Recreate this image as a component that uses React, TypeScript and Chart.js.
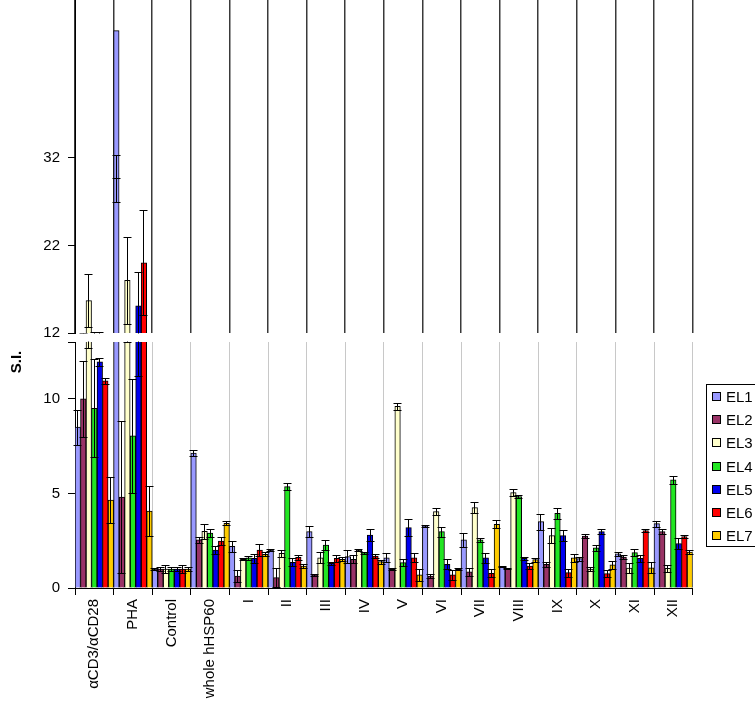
import React, { useEffect, useRef } from 'react';
import { Chart, registerables } from 'chart.js';

Chart.register(...registerables);

const categories = ['αCD3/αCD28', 'PHA', 'Control', 'whole hHSP60', 'I', 'II', 'III', 'IV', 'V', 'VI', 'VII', 'VIII', 'IX', 'X', 'XI', 'XII'];
const seriesNames = ['EL1', 'EL2', 'EL3', 'EL4', 'EL5', 'EL6', 'EL7'];
const seriesColors = ['#9999FF', '#993366', '#FFFFCC', '#22E622', '#0000F0', '#FF0000', '#FFCC00'];

const el1 = [8.5, 46.5, 1.0, 7.13, 2.2, 2.0, 2.98, 1.66, 1.6, 3.28, 2.54, 1.13, 3.51, 1.55, 1.8, 3.4];
const el1Err = [0.93, null, 0.05, 0.15, 0.3, 0.05, 0.3, 0.35, 0.25, 0.05, 0.35, 0.03, 0.42, 0.1, 0.1, 0.15];
const el2 = [10.0, 4.8, 1.0, 2.55, 0.63, 0.55, 0.69, 1.52, 0.99, 0.63, 0.86, 1.04, 1.25, 2.75, 1.63, 2.98];
const el2Err = [2.0, 4.0, 0.1, 0.15, 0.3, 0.5, 0.07, 0.2, 0.05, 0.1, 0.2, 0.03, 0.15, 0.1, 0.1, 0.15];
const el3 = [15.7, 18.0, 1.0, 3.0, 1.52, 1.83, 1.6, 2.0, 9.6, 4.04, 4.25, 5.04, 2.77, 1.0, 1.05, 1.04];
const el3Err = [3.0, 5.0, 0.2, 0.4, 0.05, 0.2, 0.3, 0.05, 0.2, 0.2, 0.27, 0.2, 0.38, 0.1, 0.25, 0.2];
const el4 = [9.5, 8.04, 1.0, 2.9, 1.6, 5.36, 2.27, 1.87, 1.34, 2.98, 2.54, 4.83, 3.95, 2.12, 1.87, 5.71];
const el4Err = [2.6, 3.0, 0.1, 0.2, 0.1, 0.2, 0.25, 0.05, 0.2, 0.27, 0.1, 0.08, 0.3, 0.15, 0.17, 0.2];
const el5 = [11.95, 15.1, 1.0, 2.01, 1.57, 1.36, 1.3, 2.8, 3.19, 1.25, 1.6, 1.57, 2.77, 2.98, 1.57, 2.35];
const el5Err = [0.2, 3.9, 0.1, 0.2, 0.25, 0.2, 0.1, 0.3, 0.45, 0.27, 0.27, 0.08, 0.28, 0.15, 0.2, 0.3];
const el6 = [10.95, 20.0, 1.0, 2.48, 2.0, 1.62, 1.57, 1.69, 1.6, 0.69, 0.78, 1.16, 0.81, 0.76, 3.03, 2.72];
const el6Err = [0.15, 6.0, 0.2, 0.2, 0.3, 0.15, 0.2, 0.1, 0.25, 0.27, 0.2, 0.15, 0.22, 0.2, 0.07, 0.08];
const el7 = [4.65, 4.07, 1.0, 3.42, 1.78, 1.16, 1.52, 1.39, 0.69, 0.99, 3.37, 1.5, 1.6, 1.22, 1.07, 1.9];
const el7Err = [1.2, 1.3, 0.1, 0.1, 0.1, 0.1, 0.1, 0.1, 0.3, 0.05, 0.2, 0.1, 0.2, 0.2, 0.3, 0.1];

// PHA / EL1 error marks (low, middle, high) as drawn in the original
const phaEl1ErrorMarks = [26.9, 29.7, 32.3];

const upperTicks = [12, 22, 32];
const lowerTicks = [0, 5, 10, 13];
const lowerTickLabels = ['0', '5', '10', ''];

const seriesValues = [el1, el2, el3, el4, el5, el6, el7];
const seriesErrors = [el1Err, el2Err, el3Err, el4Err, el5Err, el6Err, el7Err];

const FONT = '"Liberation Sans", Arial, Helvetica, sans-serif';

function buildDatasets() {
  return seriesNames.map((name, i) => ({
    label: name,
    data: seriesValues[i],
    backgroundColor: seriesColors[i],
    borderColor: '#000',
    borderWidth: 1,
    barPercentage: 1,
    categoryPercentage: 1,
    clip: 0,
  }));
}

const errorBarPlugin = {
  id: 'errorBars',
  afterDatasetsDraw(chart: any) {
    const { ctx, chartArea: a } = chart;
    const ys = chart.scales.y;
    ctx.save();
    ctx.beginPath();
    ctx.rect(a.left - 10, a.top - 0.5, a.right - a.left + 20, a.bottom - a.top + 1);
    ctx.clip();
    ctx.strokeStyle = '#000';
    ctx.lineWidth = 1;
    const py = (v: number) => Math.round(ys.getPixelForValue(v)) + 0.5;
    chart.data.datasets.forEach((ds: any, di: number) => {
      const meta = chart.getDatasetMeta(di);
      meta.data.forEach((bar: any, i: number) => {
        let lo: number, hi: number, caps: number[];
        if (di === 0 && i === 1) {
          lo = phaEl1ErrorMarks[0];
          hi = phaEl1ErrorMarks[2];
          caps = phaEl1ErrorMarks;
        } else {
          const e = seriesErrors[di][i];
          if (e == null) return;
          const v = seriesValues[di][i];
          lo = v - e;
          hi = v + e;
          caps = [lo, hi];
        }
        const x = Math.floor(bar.x) + 0.5;
        ctx.beginPath();
        ctx.moveTo(x, py(lo));
        ctx.lineTo(x, py(hi));
        caps.forEach((c) => {
          ctx.moveTo(x - 4, py(c));
          ctx.lineTo(x + 4, py(c));
        });
        ctx.stroke();
      });
    });
    ctx.restore();
  },
};

const legendPlugin = {
  id: 'customLegend',
  afterDraw(chart: any) {
    const ctx = chart.ctx;
    ctx.save();
    ctx.fillStyle = '#fff';
    ctx.strokeStyle = '#000';
    ctx.lineWidth = 1;
    ctx.fillRect(706.5, 384.5, 70, 162);
    ctx.strokeRect(706.5, 384.5, 70, 162);
    chart.data.datasets.forEach((ds: any, i: number) => {
      const cy = Math.round(397 + i * 23.2);
      ctx.fillStyle = ds.backgroundColor;
      ctx.fillRect(712.5, cy - 4.5, 8, 8);
      ctx.strokeRect(712.5, cy - 4.5, 8, 8);
      ctx.fillStyle = '#000';
      ctx.font = `15px ${FONT}`;
      ctx.textAlign = 'left';
      ctx.textBaseline = 'middle';
      ctx.fillText(ds.label, 726, cy + 1);
    });
    ctx.translate(17, 362);
    ctx.rotate(-Math.PI / 2);
    ctx.font = `bold 15px ${FONT}`;
    ctx.textAlign = 'center';
    ctx.textBaseline = 'middle';
    ctx.fillStyle = '#000';
    ctx.fillText('S.I.', 0, 0);
    ctx.restore();
  },
};

export default function App() {
  const upperRef = useRef<HTMLCanvasElement>(null);
  const lowerRef = useRef<HTMLCanvasElement>(null);

  useEffect(() => {
    Chart.defaults.font.family = FONT;
    Chart.defaults.color = '#000';

    const tickFont = { family: FONT, size: 15 };

    const lower = new Chart(lowerRef.current as HTMLCanvasElement, {
      type: 'bar',
      data: { labels: categories, datasets: buildDatasets() as any },
      plugins: [errorBarPlugin, legendPlugin],
      options: {
        responsive: false,
        animation: false,
        events: [],
        layout: { padding: { left: 0, right: 62.4, top: 342, bottom: 0 } },
        plugins: { legend: { display: false }, tooltip: { enabled: false } },
        scales: {
          x: {
            type: 'category',
            offset: true,
            grid: { offset: true, color: '#c8c8c8', lineWidth: 1, drawTicks: true, tickLength: 7, tickColor: '#000' },
            border: { display: true, color: '#000', width: 1 },
            ticks: { color: '#000', font: tickFont, minRotation: 90, maxRotation: 90, padding: 4, autoSkip: false },
            afterFit: (s: any) => {
              s.height = 119;
              s.paddingLeft = 0;
              s.paddingRight = 0;
            },
          },
          y: {
            min: 0,
            max: 13,
            afterBuildTicks: (s: any) => {
              s.ticks = lowerTicks.map((v) => ({ value: v }));
            },
            ticks: {
              color: '#000',
              font: tickFont,
              padding: 8,
              callback: (v: any) => {
                const k = lowerTicks.indexOf(Number(v));
                return k >= 0 ? lowerTickLabels[k] : '';
              },
            },
            grid: { drawOnChartArea: false, drawTicks: true, tickLength: 7, color: '#000' },
            border: { display: true, color: '#000', width: 1 },
            afterFit: (s: any) => {
              s.width = 75;
              s.paddingTop = 0;
              s.paddingBottom = 0;
            },
          },
        },
      } as any,
    });

    const upper = new Chart(upperRef.current as HTMLCanvasElement, {
      type: 'bar',
      data: { labels: categories, datasets: buildDatasets() as any },
      plugins: [errorBarPlugin],
      options: {
        responsive: false,
        animation: false,
        events: [],
        layout: { padding: { left: 0, right: 62.4, top: 0, bottom: 0 } },
        plugins: { legend: { display: false }, tooltip: { enabled: false } },
        scales: {
          x: {
            type: 'category',
            offset: true,
            grid: { offset: true, color: '#3a3a3a', lineWidth: 1.5, drawTicks: false },
            border: { display: false },
            ticks: { display: false, autoSkip: false },
            afterFit: (s: any) => {
              s.height = 7;
              s.paddingLeft = 0;
              s.paddingRight = 0;
            },
          },
          y: {
            min: 12,
            max: 50,
            afterBuildTicks: (s: any) => {
              s.ticks = upperTicks.map((v) => ({ value: v }));
            },
            ticks: { color: '#000', font: tickFont, padding: 8 },
            grid: { drawOnChartArea: false, drawTicks: true, tickLength: 7, color: '#000' },
            border: { display: true, color: '#000', width: 1 },
            afterFit: (s: any) => {
              s.width = 75;
              s.paddingTop = 0;
              s.paddingBottom = 0;
            },
          },
        },
      } as any,
    });

    return () => {
      upper.destroy();
      lower.destroy();
    };
  }, []);

  return (
    <div style={{ position: 'absolute', left: 0, top: 0, width: 755, height: 707, background: '#fff', overflow: 'hidden' }}>
      <canvas ref={lowerRef} width={755} height={707} style={{ position: 'absolute', left: 0, top: 0, width: 755, height: 707 }} />
      <canvas ref={upperRef} width={755} height={340} style={{ position: 'absolute', left: 0, top: 0, width: 755, height: 340 }} />
    </div>
  );
}
